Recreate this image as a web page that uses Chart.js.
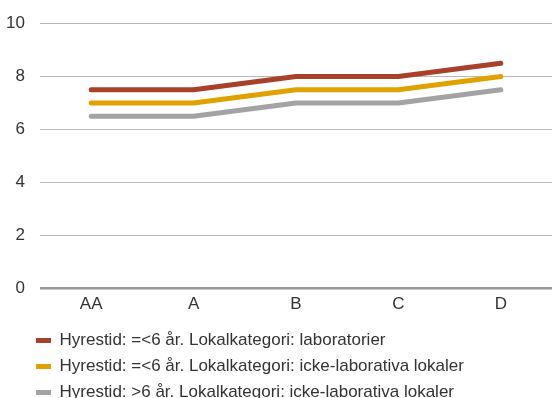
<!DOCTYPE html>
<html>
<head>
<meta charset="utf-8">
<script src="https://cdn.jsdelivr.net/npm/chart.js@4/dist/chart.umd.min.js"></script>
<style>
  html, body { margin: 0; padding: 0; background: #fff; overflow: hidden; }
  #wrap { width: 552px; height: 398px; overflow: hidden; position: relative; }
  #box { width: 552px; height: 411px; position: absolute; left: 0; top: 0; }
</style>
</head>
<body>
<div id="wrap"><div id="box"><canvas id="c"></canvas></div></div>
<script>
const categories = ['AA', 'A', 'B', 'C', 'D'];
const seriesNames = [
  'Hyrestid: =<6 år. Lokalkategori: laboratorier',
  'Hyrestid: =<6 år. Lokalkategori: icke-laborativa lokaler',
  'Hyrestid: >6 år. Lokalkategori: icke-laborativa lokaler'
];
const labShort = [7.5, 7.5, 8, 8, 8.5];
const otherShort = [7, 7, 7.5, 7.5, 8];
const otherLong = [6.5, 6.5, 7, 7, 7.5];
const yTicks = [0, 2, 4, 6, 8, 10];

const colors = ['#A8402A', '#E0A200', '#A3A3A3'];
const values = [labShort, otherShort, otherLong];

const textColor = '#333333';
const fontFamily = '"Liberation Sans", Arial, Helvetica, sans-serif';

// Indent the legend block so its markers line up under the plot area
const legendIndent = {
  id: 'legendIndent',
  afterLayout(chart) {
    const lg = chart.legend;
    if (lg) { lg.left += 27; lg.right += 27; }
  }
};

new Chart(document.getElementById('c'), {
  type: 'line',
  data: {
    labels: categories,
    datasets: values.map((v, i) => ({
      label: seriesNames[i],
      data: v,
      borderColor: colors[i],
      backgroundColor: colors[i],
      borderWidth: 5,
      borderCapStyle: 'round',
      borderJoinStyle: 'round',
      pointRadius: 0,
      pointHoverRadius: 0,
      pointStyle: 'line',
      tension: 0,
      fill: false
    }))
  },
  plugins: [legendIndent],
  options: {
    responsive: true,
    maintainAspectRatio: false,
    animation: false,
    layout: { padding: { top: 14, left: 0, right: 0, bottom: 0 } },
    plugins: {
      tooltip: { enabled: false },
      legend: {
        position: 'bottom',
        align: 'start',
        labels: {
          usePointStyle: true,
          pointStyleWidth: 15,
          boxHeight: 17,
          padding: 9,
          color: textColor,
          font: { family: fontFamily, size: 17 }
        }
      }
    },
    scales: {
      x: {
        type: 'category',
        offset: true,
        grid: { display: false, drawTicks: false },
        border: { display: false },
        ticks: {
          color: textColor,
          padding: 6,
          maxRotation: 0,
          font: { family: fontFamily, size: 17 }
        },
        afterFit: s => { s.height = 34.5; }
      },
      y: {
        min: 0,
        max: 10,
        afterBuildTicks: s => { s.ticks = yTicks.map(v => ({ value: v })); },
        grid: {
          drawTicks: false,
          color: c => c.tick && c.tick.value === 0 ? '#9a9a9a' : '#b8b8b8',
          lineWidth: c => c.tick && c.tick.value === 0 ? 2.5 : 1
        },
        border: { display: false },
        ticks: {
          color: textColor,
          padding: 15,
          font: { family: fontFamily, size: 17, lineHeight: 1 }
        },
        afterFit: s => { s.width = 40; }
      }
    }
  }
});
</script>
</body>
</html>
